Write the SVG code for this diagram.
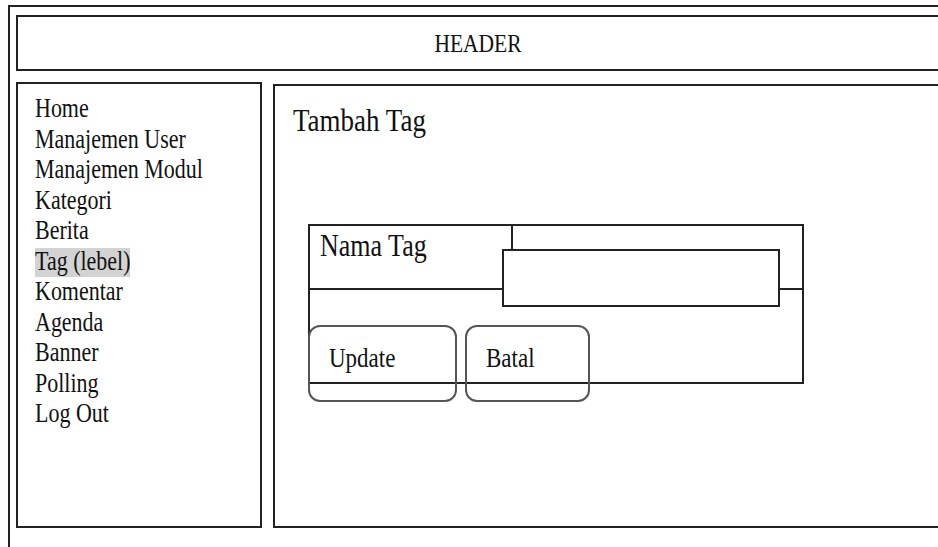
<svg xmlns="http://www.w3.org/2000/svg" width="938" height="547" viewBox="0 0 938 547">
<style>
.box{fill:#fff;stroke:#222;stroke-width:2}
.ln{fill:none;stroke:#222;stroke-width:2}
.btn{fill:none;stroke:#555;stroke-width:2}
.t{font-family:"Liberation Serif","Times New Roman",serif;fill:#111}
.s{font-size:22px}
.m{font-size:26px}
.b{font-size:23px}
</style>
<rect width="938" height="547" fill="#fff"/>
<g id="frame">
<path class="ln" d="M9,547 V6 H940"/>
</g>
<g id="header">
<rect class="box" x="17" y="16" width="930" height="54"/>
<text class="t" transform="translate(478,52) scale(1,1.2)" font-size="21.5" text-anchor="middle">HEADER</text>
</g>
<g id="sidebar">
<rect class="box" x="17" y="83" width="244" height="444"/>
<rect x="35" y="248" width="95" height="29" fill="#d3d3d3"/>
<text class="t s" transform="translate(35,117) scale(1,1.2)">Home</text>
<text class="t s" transform="translate(35,147.5) scale(1,1.2)">Manajemen User</text>
<text class="t s" transform="translate(35,178) scale(1,1.2)">Manajemen Modul</text>
<text class="t s" transform="translate(35,208.5) scale(1,1.2)">Kategori</text>
<text class="t s" transform="translate(35,239) scale(1,1.2)">Berita</text>
<text class="t s" transform="translate(35,269.5) scale(1,1.2)">Tag (lebel)</text>
<text class="t s" transform="translate(35,300) scale(1,1.2)">Komentar</text>
<text class="t s" transform="translate(35,330.5) scale(1,1.2)">Agenda</text>
<text class="t s" transform="translate(35,361) scale(1,1.2)">Banner</text>
<text class="t s" transform="translate(35,391.5) scale(1,1.2)">Polling</text>
<text class="t s" transform="translate(35,422) scale(1,1.2)">Log Out</text>
</g>
<g id="content">
<rect class="box" x="274" y="85" width="680" height="442"/>
<text class="t" font-size="27" transform="translate(293,131) scale(1,1.2)">Tambah Tag</text>
</g>
<g id="form">
<rect class="box" x="309" y="225" width="494" height="158"/>
<path class="ln" d="M309,289 H803 M512,225 V250"/>
<text class="t m" transform="translate(320,256) scale(1,1.2)">Nama Tag</text>
</g>
<g id="input">
<rect class="box" x="503" y="250" width="276" height="56"/>
</g>
<g id="btn-update">
<rect class="btn" x="309" y="326" width="147" height="75" rx="11"/>
<text class="t b" transform="translate(329,367) scale(1,1.2)">Update</text>
</g>
<g id="btn-batal">
<rect class="btn" x="466" y="326" width="123" height="75" rx="11"/>
<text class="t b" transform="translate(486,367) scale(1,1.2)">Batal</text>
</g>
<g id="connectors"></g>
</svg>
